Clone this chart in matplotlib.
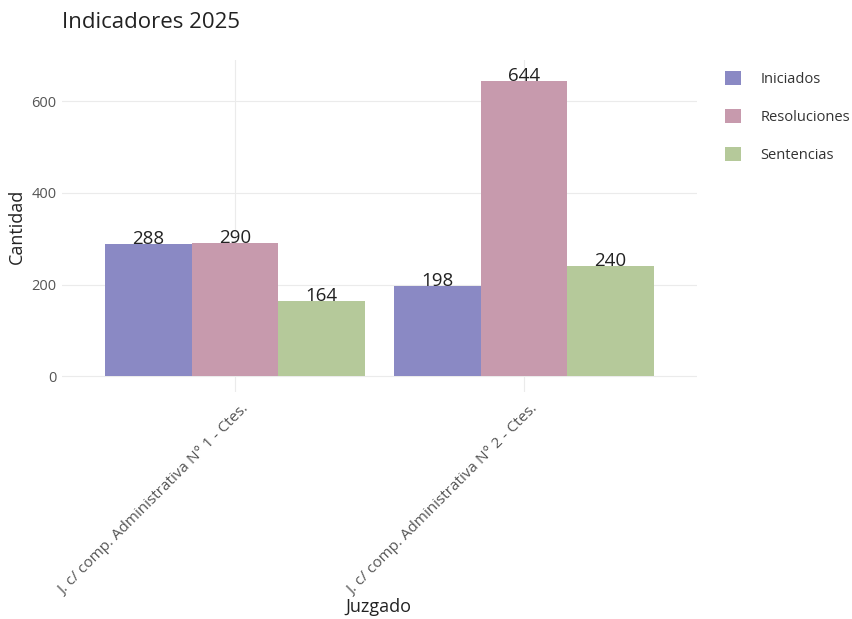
import matplotlib
matplotlib.use("Agg")
import matplotlib.pyplot as plt
import numpy as np

plt.rcParams['font.family'] = ['Open Sans', 'DejaVu Sans']

categories = ["J. c/ comp. Administrativa N° 1 - Ctes.", "J. c/ comp. Administrativa N° 2 - Ctes."]
series = ["Iniciados", "Resoluciones", "Sentencias"]
iniciados = [288, 198]
resoluciones = [290, 644]
sentencias = [164, 240]
values = [iniciados, resoluciones, sentencias]
colors = ["#8a89c4", "#c79aad", "#b5c99a"]

W, H = 852, 619
fig = plt.figure(figsize=(W/100, H/100), dpi=100)
L, R, T, B = 62, 697, 60, 392
ax = fig.add_axes([L/W, 1 - B/H, (R-L)/W, (B-T)/H])

x = np.arange(1, len(categories) + 1)
bw = 0.3
for i, (name, vals, c) in enumerate(zip(series, values, colors)):
    pos = x + (i - 1) * bw
    ax.bar(pos, vals, width=bw, color=c, label=name, zorder=2)
    for p, v in zip(pos, vals):
        ax.text(p, v, str(v), ha='center', va='baseline', fontsize=13.5, color='#222222', zorder=3)

ax.set_xlim(0.4, 2.6)
ax.set_ylim(-34, 690)
ax.set_yticks([0, 200, 400, 600])
# grid lines at category centers (minor), labels slightly offset like ggplot's hjust
ax.set_xticks(x, minor=True)
ax.set_xticks(x + 0.022)
ax.set_xticklabels(categories, rotation=45, ha='right', rotation_mode='anchor',
                   fontsize=11, color='#555555')
ax.tick_params(axis='y', labelsize=10.5, labelcolor='#555555', length=0, pad=4)
ax.tick_params(axis='x', which='both', length=0, pad=7)
ax.grid(True, axis='y', color='#ebebeb', linewidth=0.8, zorder=0)
ax.grid(True, axis='x', which='minor', color='#ebebeb', linewidth=0.8, zorder=0)
ax.grid(False, axis='x', which='major')
ax.set_axisbelow(True)
for s in ax.spines.values():
    s.set_visible(False)

ax.set_ylabel("Cantidad", fontsize=13, color='#222222', labelpad=4)
ax.set_xlabel("Juzgado", fontsize=13, color='#222222', va='center')
ax.xaxis.set_label_coords((378 - L) / (R - L), (B - 607) / (B - T))
fig.text(62/W, 1 - 23/H, "Indicadores 2025", fontsize=16, color='#222222', va='center', ha='left')

leg = ax.legend(loc='upper left', bbox_to_anchor=(712/W, 1 - 58/H), bbox_transform=fig.transFigure,
                frameon=False, fontsize=10.5, handlelength=1.1, handleheight=1.1,
                labelspacing=1.5, handletextpad=1.3)
for t in leg.get_texts():
    t.set_color('#333333')

fig.savefig("out.png", dpi=100)
